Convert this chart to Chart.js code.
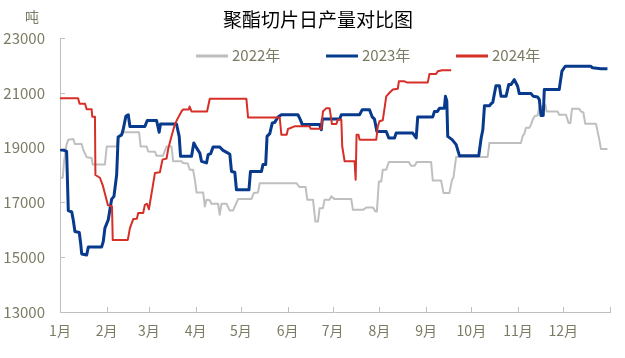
<!DOCTYPE html>
<html>
<head>
<meta charset="utf-8">
<script src="https://cdn.jsdelivr.net/npm/chart.js@4"></script>
<style>
  html, body { margin: 0; padding: 0; background: #fff; }
  #wrap { width: 625px; height: 358px; }
</style>
</head>
<body>
<div id="wrap"><canvas id="my-chart" width="625" height="358"></canvas></div>
<script>
// day of year (0 = 1月1日) and daily output (吨)
const monthStarts = [0, 31, 59, 90, 120, 151, 181, 212, 243, 273, 304, 334, 365];
const monthLabels = ['1月', '2月', '3月', '4月', '5月', '6月', '7月', '8月', '9月', '10月', '11月', '12月', ''];
const yTicks = [13000, 15000, 17000, 19000, 21000, 23000];
const seriesNames = ['2022年', '2023年', '2024年'];

const days2022 = [0, 1.8, 2.7, 4.3, 5.5, 8.8, 9.9, 14.4, 15.4, 17.7, 21, 21.7, 29.8, 31, 37.6, 38.6, 40.9, 41.9,
  52.5, 53.5, 57.5, 58.5, 63, 64.1, 68.3, 70.7, 74, 75.1, 80.6, 81.7, 84.8, 86.1, 88.3, 89.5, 90.6, 95, 96.1,
  97.2, 99.4, 100.5, 104.9, 106, 107.2, 110.5, 112.7, 114.8, 118.2, 127, 128.6, 131.4, 132.5, 156.9, 159, 163,
  164.1, 167.9, 169.5, 171.2, 172.3, 174.5, 175.6, 178.9, 180, 182.2, 193.3, 194.4, 201, 203.3, 207.7, 209.4,
  210.3, 211.6, 213.2, 214.2, 216.5, 218.2, 231.5, 233, 235.3, 236.8, 246.3, 247.4, 252.9, 254.5, 258.4, 260.2,
  261.1, 262.9, 283.8, 285, 305.9, 307, 308.1, 309.2, 311.5, 312.6, 313.6, 314.8, 317, 318.1, 320.3, 322.1,
  322.9, 330.2, 331.3, 335.8, 337.5, 338.7, 339.8, 344.6, 345.7, 347.3, 348.6, 355.7, 357.9, 359, 363.3];
const vals2022 = [17900, 17900, 18500, 19100, 19290, 19310, 19130, 19130, 18920, 18650, 18620, 18380, 18380, 19040,
  19040, 19390, 19420, 19560, 19560, 19040, 19040, 18860, 18850, 18700, 18700, 19040, 19040, 18500, 18500, 18440,
  18420, 18190, 18190, 17830, 17360, 17360, 16850, 17100, 17080, 16950, 16950, 16550, 16950, 16950, 16700, 16700,
  17120, 17120, 17340, 17360, 17700, 17700, 17560, 17560, 17100, 17100, 16300, 16300, 16790, 16790, 17100, 17100,
  17220, 17120, 17120, 16730, 16730, 16810, 16810, 16670, 16670, 17760, 17760, 18190, 18190, 18470, 18470, 18340,
  18340, 18470, 18470, 17800, 17800, 17340, 17340, 17830, 17900, 18660, 18660, 19170, 19170, 19410, 19500, 19720,
  19720, 19840, 20000, 20140, 20180, 20500, 20480, 20570, 20320, 20320, 20200, 20200, 19900, 19900, 20420, 20420,
  20320, 20280, 19870, 19870, 19290, 18950, 18950];

const days2023 = [0, 2.7, 4.4, 5.5, 7.8, 8.8, 9.9, 12.8, 13.7, 14.4, 17.7, 18.8, 27.6, 28.7, 29.8, 32, 33.1, 34.3,
  35.8, 37.6, 38.6, 40.9, 41.9, 43.7, 45.3, 46.4, 56.3, 57.9, 64.1, 65.8, 66.7, 77.3, 79.1, 80, 87.3, 88.8, 90.6,
  92.8, 93.9, 97.2, 98.3, 100, 101.6, 106, 108.2, 111.5, 112.7, 113.8, 116, 117.1, 125.4, 126.4, 133.7, 134.7,
  136.5, 137.4, 139.2, 140.9, 142.5, 144.7, 146.9, 157.9, 159.5, 160.8, 172.3, 173.4, 174.1, 185.6, 186.7, 198.8,
  200.6, 205.4, 207.2, 208.7, 210.3, 216.5, 218.2, 222, 223.1, 234.1, 236.4, 237.4, 247.4, 248.5, 250.5, 251.9,
  255.1, 255.8, 256.7, 257.3, 260.2, 262.9, 265.1, 277.9, 279.5, 280.6, 281.7, 285, 286.1, 287.2, 289.3, 291.6,
  292.7, 296, 297.8, 299.3, 301.5, 303.7, 304.8, 312.6, 314.1, 317, 318.1, 319.2, 320.7, 321.4, 331.3, 333.1,
  335.3, 352.3, 353.4, 359, 363.3];
const vals2023 = [18920, 18900, 18860, 16700, 16650, 16360, 15940, 15900, 15510, 15120, 15080, 15370, 15370, 15570,
  16060, 16360, 16730, 17120, 17220, 18010, 19390, 19470, 19650, 20140, 20200, 19770, 19770, 19990, 19990, 19560,
  19860, 19860, 19410, 18680, 18680, 19170, 18990, 18800, 18500, 18440, 18740, 18780, 19020, 19020, 18900, 18800,
  18760, 18130, 18100, 17460, 17460, 18130, 18130, 18380, 18380, 19410, 19510, 19900, 19920, 20120, 20200, 20200,
  20020, 19840, 19840, 19650, 20040, 20040, 20200, 20200, 20385, 20385, 20120, 20040, 19590, 19590, 19350, 19350,
  19530, 19530, 19350, 20120, 20120, 20320, 20320, 20440, 20440, 20870, 20700, 19410, 19290, 19110, 18700, 18700,
  19350, 19650, 20530, 20530, 20600, 20650, 21260, 21260, 20870, 20870, 21300, 21300, 21480, 21240, 20970, 20970,
  20870, 20850, 20750, 20170, 20170, 21120, 21120, 21790, 21970, 21970, 21910, 21880, 21880];

const days2024 = [0, 12, 13, 16.6, 17.7, 21, 21.4, 23.2, 23.5, 26.5, 28.5, 31.8, 34.5, 35, 45, 46.4, 48.6, 51, 51.9,
  55.2, 56.3, 57.7, 59, 60.8, 63, 66.3, 68, 70.7, 71.8, 74, 76.2, 77.7, 80.6, 81.7, 85.5, 86, 87.3, 97.6, 99.4,
  123.7, 124.8, 145.8, 146.9, 150.4, 151.3, 155.7, 165.7, 166.3, 173.4, 174.5, 176.7, 178.9, 180.5, 183.4, 184.4,
  186.7, 187.3, 188.9, 195.5, 196.2, 196.8, 198.1, 198.8, 209.9, 210.9, 212, 214.2, 215.4, 216.5, 218.7, 220.9,
  224.2, 224.9, 228.6, 230.2, 244.1, 245.2, 249.6, 250.7, 253.6, 259.6];
const vals2024 = [20800, 20800, 20600, 20600, 20400, 20400, 20130, 20130, 18000, 17900, 17600, 16900, 16850, 15630,
  15630, 16060, 16390, 16400, 16610, 16610, 16910, 16950, 16750, 17340, 18070, 18100, 18560, 18600, 18950, 19410,
  19840, 20020, 20320, 20390, 20390, 20500, 20320, 20320, 20780, 20780, 20100, 20100, 19470, 19470, 19680, 19775,
  19775, 19690, 19690, 20320, 20440, 20440, 19860, 19860, 20020, 20020, 19040, 18500, 18500, 17830, 19470, 19470,
  19290, 19290, 19770, 19960, 20000, 20440, 20870, 21000, 21120, 21150, 21420, 21420, 21380, 21380, 21690, 21690,
  21790, 21820, 21820];

const toPoints = (days, vals) => days.map((d, i) => ({ x: d, y: vals[i] }));

const textColor = '#7b7b63';
const axisColor = '#bfbfbf';
const fontFamily = '"Noto Sans CJK SC", "Noto Sans", sans-serif';

// title, unit, legend and inward tick marks
const decor = {
  id: 'decor',
  afterDatasetsDraw(chart) {
    const ctx = chart.ctx;
    const area = chart.chartArea;
    const xs = chart.scales.x;
    const ys = chart.scales.y;
    ctx.save();
    ctx.strokeStyle = axisColor;
    ctx.lineWidth = 1;
    ctx.beginPath();
    xs.ticks.forEach(t => {
      const px = Math.round(xs.getPixelForValue(t.value)) + 0.5;
      ctx.moveTo(px, area.bottom);
      ctx.lineTo(px, area.bottom - 5);
    });
    ys.ticks.forEach(t => {
      const py = Math.round(ys.getPixelForValue(t.value)) + 0.5;
      ctx.moveTo(area.left, py);
      ctx.lineTo(area.left + 5, py);
    });
    ctx.stroke();

    ctx.fillStyle = '#000';
    ctx.font = '19px ' + fontFamily;
    ctx.textAlign = 'center';
    ctx.textBaseline = 'middle';
    ctx.fillText('聚酯切片日产量对比图', 318, 20);

    ctx.fillStyle = textColor;
    ctx.font = '14px ' + fontFamily;
    ctx.fillText('吨', 32, 17);

    ctx.textAlign = 'left';
    ctx.font = '15px ' + fontFamily;
    chart.data.datasets.forEach((ds, i) => {
      const x0 = 196 + i * 130;
      ctx.strokeStyle = ds.borderColor;
      ctx.lineWidth = 3;
      ctx.beginPath();
      ctx.moveTo(x0, 56);
      ctx.lineTo(x0 + 32, 56);
      ctx.stroke();
      ctx.fillStyle = textColor;
      ctx.fillText(ds.label, x0 + 36, 55);
    });
    ctx.restore();
  }
};

const ctx = document.getElementById('my-chart').getContext('2d');

let myChart = new Chart(ctx, {
  type: 'line',
  data: {
    datasets: [
      {
        label: seriesNames[0],
        data: toPoints(days2022, vals2022),
        borderColor: '#bfbfbf',
        borderWidth: 2,
        order: 3,
      },
      {
        label: seriesNames[1],
        data: toPoints(days2023, vals2023),
        borderColor: '#073a8c',
        borderWidth: 3,
        order: 2,
      },
      {
        label: seriesNames[2],
        data: toPoints(days2024, vals2024),
        borderColor: '#d62f27',
        borderWidth: 2,
        order: 1,
      },
    ],
  },
  options: {
    responsive: false,
    animation: false,
    layout: { padding: { left: 0, right: 15, top: 38, bottom: 0 } },
    elements: {
      point: { radius: 0 },
      line: { tension: 0, borderJoinStyle: 'round', fill: false },
    },
    plugins: {
      legend: { display: false },
      title: { display: false },
      tooltip: { enabled: false },
    },
    scales: {
      x: {
        type: 'linear',
        min: 0,
        max: 365,
        afterBuildTicks: (scale) => { scale.ticks = monthStarts.map(v => ({ value: v })); },
        afterFit: (scale) => { scale.height = 46; },
        grid: { display: false, drawTicks: false },
        border: { color: axisColor, width: 1 },
        ticks: {
          autoSkip: false,
          maxRotation: 0,
          padding: 10,
          color: textColor,
          font: { size: 14, family: fontFamily },
          callback: (v, i) => monthLabels[i],
        },
      },
      y: {
        min: 13000,
        max: 23000,
        afterBuildTicks: (scale) => { scale.ticks = yTicks.map(v => ({ value: v })); },
        afterFit: (scale) => { scale.width = 60; },
        grid: { display: false, drawTicks: false },
        border: { color: axisColor, width: 1 },
        ticks: {
          padding: 15,
          color: textColor,
          font: { size: 15, family: fontFamily },
          callback: (v) => String(v),
        },
      },
    },
  },
  plugins: [decor],
});
</script>
</body>
</html>
